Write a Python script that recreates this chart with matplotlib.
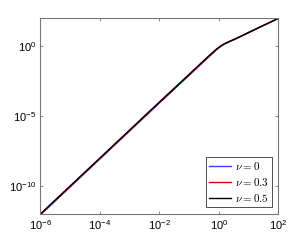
import matplotlib
matplotlib.use("Agg")
import matplotlib.pyplot as plt
import numpy as np

plt.rcParams['font.family'] = ['Liberation Sans', 'DejaVu Sans']
plt.rcParams['mathtext.fontset'] = 'cm'

# data (log10 values)
log_x = [-6, -5, -4, -3, -2, -1, -0.5, -0.3, -0.2, -0.1, 0, 0.1, 0.2, 0.3, 0.4, 0.5, 0.7, 1, 1.5, 2]
log_y_nu0 = [-12.07, -10.07, -8.07, -6.07, -4.07, -2.09, -1.09, -0.70, -0.50, -0.30, -0.12, 0.04, 0.17, 0.27, 0.37, 0.46, 0.66, 0.97, 1.48, 1.98]
log_y_nu03 = [-12.035, -10.035, -8.035, -6.035, -4.035, -2.055, -1.055, -0.665, -0.47, -0.28, -0.10, 0.05, 0.17, 0.27, 0.37, 0.46, 0.66, 0.97, 1.48, 1.98]
log_y_nu05 = [-12.0, -10.0, -8.0, -6.0, -4.0, -2.02, -1.02, -0.63, -0.44, -0.25, -0.08, 0.06, 0.17, 0.27, 0.37, 0.46, 0.66, 0.97, 1.48, 1.98]

series = [
    (log_y_nu0, r'$\nu = 0$', '#3344ff'),
    (log_y_nu03, r'$\nu = 0.3$', '#dd0000'),
    (log_y_nu05, r'$\nu = 0.5$', '#000000'),
]

fig = plt.figure(figsize=(3.08, 2.41), dpi=100)
ax = fig.add_axes([0.131, 0.112, 0.773, 0.813])

x = 10.0 ** np.array(log_x)
for ly, lab, col in series:
    ax.plot(x, 10.0 ** np.array(ly), color=col, lw=1.0, label=lab)

ax.set_xscale('log')
ax.set_yscale('log')
ax.set_xlim(1e-6, 1e2)
ax.set_ylim(1e-12, 1e2)
ax.set_xticks([1e-6, 1e-4, 1e-2, 1e0, 1e2])
ax.set_yticks([1e-10, 1e-5, 1e0])
ax.minorticks_off()
ax.tick_params(which='both', direction='in', top=True, right=True,
               length=2.5, width=0.6, color='#777777', labelsize=8, pad=3)
for s in ax.spines.values():
    s.set_color('#777777')
    s.set_linewidth(0.8)

leg = ax.legend(loc='lower right', fontsize=8, frameon=True, fancybox=False,
                handlelength=2.0, handletextpad=0.3, borderpad=0.3,
                labelspacing=0.35, borderaxespad=0.6)
leg.get_frame().set_edgecolor('black')
leg.get_frame().set_linewidth(0.6)

fig.savefig('out.png', dpi=100)
